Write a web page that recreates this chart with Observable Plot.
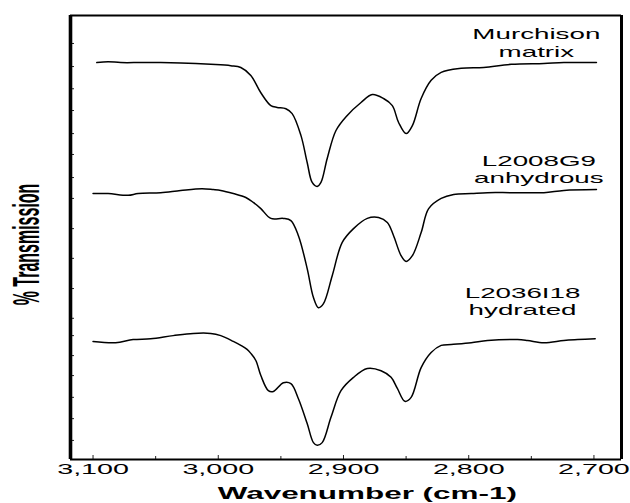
<!DOCTYPE html>
<html>
<head>
<meta charset="utf-8">
<script src="https://cdn.jsdelivr.net/npm/d3@7"></script>
<script src="https://cdn.jsdelivr.net/npm/@observablehq/plot@0.6"></script>
<style>
  html, body { margin: 0; padding: 0; background: #fff; }
</style>
</head>
<body>
<div id="chart"></div>
<script>
// Infrared C–H stretching region, three samples stacked with offsets (% transmission, arbitrary)
const murchisonWn = [3097,3088,3078,3062,3046,3030,3006,2990,2982,2974,2966,2958,2953,2946,2941,2934,2929,2925,2921,2918,2913,2906,2897,2886,2877,2868,2861,2856,2850,2845,2838,2830,2822,2806,2788,2766,2740,2724,2698];
const murchisonT  = [89.4,89.6,89.4,89.4,89.4,89.3,89.0,88.7,88.3,86.5,82.6,79.7,79.3,79.0,77.9,73.0,66.9,62.4,61.5,62.4,67.8,74.1,77.5,80.4,82.2,81.3,79.7,75.9,73.4,75.2,81.3,85.4,87.2,88.1,88.3,89.0,89.2,89.4,89.4];

const anhydrousWn = [3100,3088,3072,3064,3046,3030,3013,3004,2998,2988,2978,2972,2966,2958,2948,2942,2936,2929,2924,2920,2916,2909,2901,2892,2881,2872,2865,2860,2854,2850,2845,2838,2832,2822,2812,2798,2785,2766,2740,2724,2698];
const anhydrousT  = [59.9,59.9,59.5,59.9,60.1,60.6,61.0,60.8,60.6,59.9,59.0,57.9,56.5,54.3,54.3,53.8,50.4,43.0,36.5,34.2,35.1,41.4,48.9,52.0,54.3,54.5,53.4,50.4,45.9,44.6,45.9,51.1,56.5,58.8,59.7,59.9,60.1,60.1,60.1,60.6,60.8];

const hydratedWn = [3100,3082,3068,3054,3036,3020,3006,2998,2988,2982,2977,2974,2970,2966,2960,2956,2948,2942,2936,2929,2924,2921,2917,2910,2902,2892,2881,2870,2862,2857,2851,2846,2838,2830,2822,2814,2798,2785,2761,2753,2740,2724,2713,2699];
const hydratedT  = [26.6,26.3,27.0,27.2,27.9,28.4,28.4,27.9,26.6,25.7,24.8,23.9,22.3,18.9,15.5,15.3,17.3,17.1,13.7,8.1,3.8,3.2,3.8,9.5,15.5,18.5,20.5,20.0,18.5,16.0,13.1,14.0,20.7,24.1,25.7,25.9,26.3,26.8,27.0,26.8,26.3,26.8,27.0,27.2];

// Sample labels (one entry per text line) and their anchor points in data units
const labelText = ["Murchison", "matrix", "L2008G9", "anhydrous", "L2036I18", "hydrated"];
const labelWn   = [2746, 2746, 2744, 2744, 2757, 2757];
const labelT    = [95.7, 91.8, 67.1, 63.3, 37.4, 33.6];

// Axes
const xDomain = [3118, 2678];
const yDomain = [0, 100];
const xMajorTicks = [3100, 3000, 2900, 2800, 2700];
const xMinorTicks = [3050, 2950, 2850, 2750];
const yTicks = [93.7, 88.5, 83.5, 78.6, 73.4, 68.7, 63.5, 58.8, 52.0, 45.3, 38.5, 31.8, 27.9, 23.4, 18.9, 14.0, 9.2, 4.3];
const xTitle = "Wavenumber (cm-1)";
const xTitleWn = 2881;
const yTitle = "% Transmission";

const series = [
  {sample: "Murchison matrix", wn: murchisonWn, t: murchisonT},
  {sample: "L2008G9 anhydrous", wn: anhydrousWn, t: anhydrousT},
  {sample: "L2036I18 hydrated", wn: hydratedWn, t: hydratedT}
];
const spectra = series.flatMap(s => s.wn.map((w, i) => ({sample: s.sample, wn: w, t: s.t[i]})));
const labels = labelText.map((text, i) => ({text, wn: labelWn[i], t: labelT[i]}));

const chart = Plot.plot({
  width: 630,
  height: 503,
  marginLeft: 70,
  marginRight: 9,
  marginTop: 15,
  marginBottom: 44,
  style: {fontFamily: "'Liberation Sans', Arial, Helvetica, sans-serif", color: "#000", background: "#fff"},
  x: {domain: xDomain},
  y: {domain: yDomain},
  marks: [
    // inward ticks on the left axis
    Plot.axisY({ticks: yTicks, tickSize: 4, dx: 4, tickFormat: () => "", label: null, stroke: "#222"}),
    // inward ticks on the bottom axis
    Plot.axisX({ticks: xMinorTicks, tickSize: 3, dy: -3, tickFormat: () => "", label: null, stroke: "#222"}),
    Plot.axisX({ticks: xMajorTicks, tickSize: 4, dy: -4, tickFormat: () => "", label: null, stroke: "#222"}),
    // tick labels
    Plot.axisX({ticks: xMajorTicks, tickSize: 0, tickPadding: 3, tickFormat: d3.format(","), fontSize: 15.5, label: null, fill: "#000"}),
    // spectra
    Plot.line(spectra, {x: "wn", y: "t", z: "sample", curve: "catmull-rom", stroke: "#000", strokeWidth: 1.5}),
    // sample labels
    Plot.text(labels, {x: "wn", y: "t", text: "text", fontSize: 15, textAnchor: "middle", lineAnchor: "middle", fill: "#000"}),
    // axis titles
    Plot.text([xTitle], {x: [xTitleWn], text: d => d, frameAnchor: "bottom", lineAnchor: "middle", textAnchor: "middle", dy: 34, fontSize: 17, fontWeight: "bold", fill: "#000"}),
    Plot.text([yTitle], {text: d => d, frameAnchor: "left", rotate: -90, textAnchor: "middle", lineAnchor: "middle", dx: -43, dy: 7, fontSize: 16, fontWeight: "bold", fill: "#000"}),
    // plot border: heavier left and right edges
    Plot.ruleY(yDomain, {stroke: "#000", strokeWidth: 2.2}),
    Plot.ruleX([xDomain[0]], {stroke: "#000", strokeWidth: 3.6}),
    Plot.ruleX([xDomain[1]], {stroke: "#000", strokeWidth: 3})
  ]
});

document.getElementById("chart").append(chart);

// Wide lettering: stretch every label about its own anchor point
// (the position lives in each text's transform; em-based y offsets stay local)
chart.querySelectorAll("text").forEach(t => {
  const tr = t.getAttribute("transform") || "";
  const rotated = /rotate\(-90\)/.test(tr);
  t.setAttribute("transform", (tr + (rotated ? " scale(1,2.3)" : " scale(1.85,1)")).trim());
});
</script>
</body>
</html>
